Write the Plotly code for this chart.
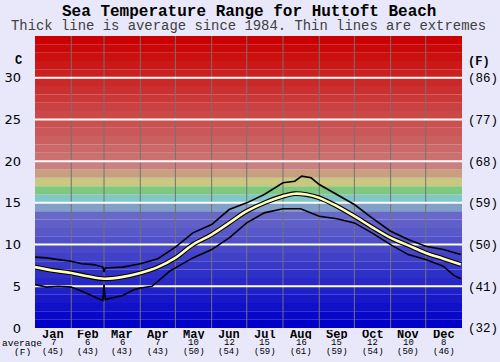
import plotly.graph_objects as go

# ---------------- data ----------------
months = ["Jan", "Feb", "Mar", "Apr", "May", "Jun", "Jul", "Aug", "Sep", "Oct", "Nov", "Dec"]
month_start_day = [0, 31, 59, 90, 120, 151, 181, 212, 243, 273, 304, 334, 365]
month_avg_c = [7, 6, 6, 7, 10, 12, 15, 16, 15, 12, 10, 8]
month_avg_f = [45, 43, 43, 43, 50, 54, 59, 61, 59, 54, 50, 46]

avg_days = [0, 15, 31, 45, 59, 74, 90, 105, 120, 135, 151, 166, 181, 196, 212, 222, 232, 243,
            258, 273, 288, 304, 319, 334, 349, 364]
avg_temp = [7.3, 6.9, 6.6, 6.2, 5.9, 6.1, 6.6, 7.3, 8.4, 10.0, 11.2, 12.6, 14.0, 15.0, 15.8, 16.1,
            16.0, 15.6, 14.6, 13.4, 12.1, 10.8, 9.9, 9.0, 8.3, 7.6]

max_days = [0, 10, 20, 31, 40, 50, 58, 59, 60, 75, 90, 105, 120, 135, 151, 166, 181, 196, 212,
            222, 228, 236, 243, 258, 273, 288, 304, 319, 334, 349, 364]
max_temp = [8.5, 8.4, 8.2, 8.0, 7.7, 7.6, 7.3, 6.7, 7.2, 7.3, 7.7, 8.3, 9.7, 11.4, 12.4, 14.2,
            15.0, 16.0, 17.4, 17.6, 18.2, 18.0, 17.2, 16.0, 14.8, 13.2, 11.6, 10.6, 9.8, 9.4, 8.8]

min_days = [0, 10, 20, 31, 40, 50, 58, 59, 60, 75, 85, 90, 100, 105, 115, 120, 135, 151, 166,
            181, 196, 212, 227, 243, 258, 273, 288, 304, 319, 334, 349, 358, 364]
min_temp = [5.2, 4.9, 5.0, 4.9, 4.4, 3.8, 3.3, 5.2, 3.4, 3.9, 4.6, 4.8, 5.0, 5.6, 6.8, 7.2, 8.4,
            9.4, 10.8, 12.6, 13.8, 14.3, 14.3, 13.4, 13.1, 12.6, 11.4, 10.0, 8.8, 8.2, 7.4, 6.3, 5.9]

y_ticks_c = [0, 5, 10, 15, 20, 25, 30]
y_ticks_f = ["(32)", "(41)", "(50)", "(59)", "(68)", "(77)", "(86)"]

title_text = "Sea Temperature Range for Huttoft Beach"
subtitle_text = "Thick line is average since 1984. Thin lines are extremes"

# ---------------- styles ----------------
BG = "#e8e8fa"
MONO = "Liberation Mono, Courier New, monospace"
SANS = "DejaVu Sans, Verdana, sans-serif"


def band_color(k):
    if k <= 13:
        v = round(k * 8)
        return f"rgb({v},{v},200)"
    fixed = {14: (128, 160, 200), 15: (128, 200, 200), 16: (128, 200, 128),
             17: (200, 200, 128), 18: (200, 160, 128), 19: (200, 128, 128)}
    if k in fixed:
        r, g, b = fixed[k]
        return f"rgb({r},{g},{b})"
    v = round(112 - (k - 20) * 112 / 14)
    return f"rgb(203,{v},{v})"


shapes = []
for k in range(35):
    shapes.append(dict(type="rect", xref="paper", yref="y", x0=0, x1=1, y0=k, y1=k + 1,
                       fillcolor=band_color(k), line_width=0, layer="below"))
for d in month_start_day[1:-1]:
    shapes.append(dict(type="line", xref="x", yref="paper", x0=d, x1=d, y0=0, y1=1,
                       line=dict(color="rgb(115,115,115)", width=1), layer="below"))
for t in y_ticks_c[1:]:
    shapes.append(dict(type="line", xref="paper", yref="y", x0=0, x1=1, y0=t, y1=t,
                       line=dict(color="white", width=2), layer="below"))

fig = go.Figure()
fig.add_trace(go.Scatter(x=max_days, y=max_temp, mode="lines",
                         line=dict(color="black", width=1.6), hoverinfo="skip"))
fig.add_trace(go.Scatter(x=min_days, y=min_temp, mode="lines",
                         line=dict(color="black", width=1.6), hoverinfo="skip"))
fig.add_trace(go.Scatter(x=avg_days, y=avg_temp, mode="lines",
                         line=dict(color="black", width=4.8, shape="spline"), hoverinfo="skip"))
fig.add_trace(go.Scatter(x=avg_days, y=avg_temp, mode="lines",
                         line=dict(color="rgb(255,255,185)", width=2.6, shape="spline"),
                         hoverinfo="skip"))
# invisible trace to activate right axis
fig.add_trace(go.Scatter(x=[0], y=[0], yaxis="y2", mode="markers",
                         marker=dict(opacity=0), hoverinfo="skip"))

annotations = []
for i, m in enumerate(months):
    mid = (month_start_day[i] + month_start_day[i + 1]) / 2
    annotations.append(dict(x=mid, xref="x", xanchor="center", y=0, yref="paper",
                            yanchor="middle", yshift=-6, height=9, borderpad=0,
                            text=f"<b>{m}</b>", showarrow=False,
                            font=dict(family=MONO, size=12, color="black")))
    annotations.append(dict(x=mid, xref="x", xanchor="center", y=0, yref="paper",
                            yanchor="middle", yshift=-15, height=8, borderpad=0,
                            text=str(month_avg_c[i]), showarrow=False,
                            font=dict(family=MONO, size=9, color="black")))
    annotations.append(dict(x=mid, xref="x", xanchor="center", y=0, yref="paper",
                            yanchor="middle", yshift=-24, height=8, borderpad=0,
                            text=f"({month_avg_f[i]})", showarrow=False,
                            font=dict(family=MONO, size=9, color="black")))
annotations.append(dict(x=0, xref="paper", xanchor="center", xshift=-13, y=0, yref="paper",
                        yanchor="middle", yshift=-15, height=8, borderpad=0, text="average",
                        showarrow=False, font=dict(family=MONO, size=9.5, color="black")))
annotations.append(dict(x=0, xref="paper", xanchor="center", xshift=-13, y=0, yref="paper",
                        yanchor="middle", yshift=-24, height=8, borderpad=0, text="(F)",
                        showarrow=False, font=dict(family=MONO, size=9.5, color="black")))
annotations.append(dict(x=0, xref="paper", xanchor="center", xshift=-17, y=1, yref="paper",
                        yanchor="middle", yshift=-25, text="<b>C</b>", showarrow=False,
                        font=dict(family=MONO, size=12, color="black")))
annotations.append(dict(x=1, xref="paper", xanchor="center", xshift=17, y=1, yref="paper",
                        yanchor="middle", yshift=-26, text="<b>(F)</b>", showarrow=False,
                        font=dict(family=MONO, size=12, color="black")))
annotations.append(dict(x=0.5, xref="paper", xanchor="center", y=1, yref="paper",
                        yanchor="middle", yshift=24,
                        text=f"<b>{title_text}</b>", showarrow=False,
                        font=dict(family=MONO, size=16, color="black")))
annotations.append(dict(x=0.5, xref="paper", xanchor="center", y=1, yref="paper",
                        yanchor="middle", yshift=10,
                        text=subtitle_text, showarrow=False,
                        font=dict(family=MONO, size=13.9, color="#404040")))

fig.update_layout(
    width=500, height=362,
    margin=dict(l=35, r=38, t=36, b=34),
    paper_bgcolor=BG, plot_bgcolor=BG,
    showlegend=False,
    shapes=shapes,
    annotations=annotations,
    xaxis=dict(range=[0, 365], showgrid=False, zeroline=False, showticklabels=False,
               fixedrange=True, automargin=False),
    yaxis=dict(range=[0, 35], tickvals=y_ticks_c, ticktext=[str(t) for t in y_ticks_c],
               showgrid=False, zeroline=False, ticklabelstandoff=13, automargin=False,
               tickfont=dict(family=SANS, size=13, color="black")),
    yaxis2=dict(range=[0, 35], overlaying="y", side="right", tickvals=y_ticks_c,
                ticktext=y_ticks_f, showgrid=False, zeroline=False, ticklabelstandoff=5,
                automargin=False, tickfont=dict(family=MONO, size=12.5, color="black")),
)

fig.write_html("out.html", config={"displayModeBar": False},
               post_script="document.body.style.margin='0';document.body.style.padding='0';")
